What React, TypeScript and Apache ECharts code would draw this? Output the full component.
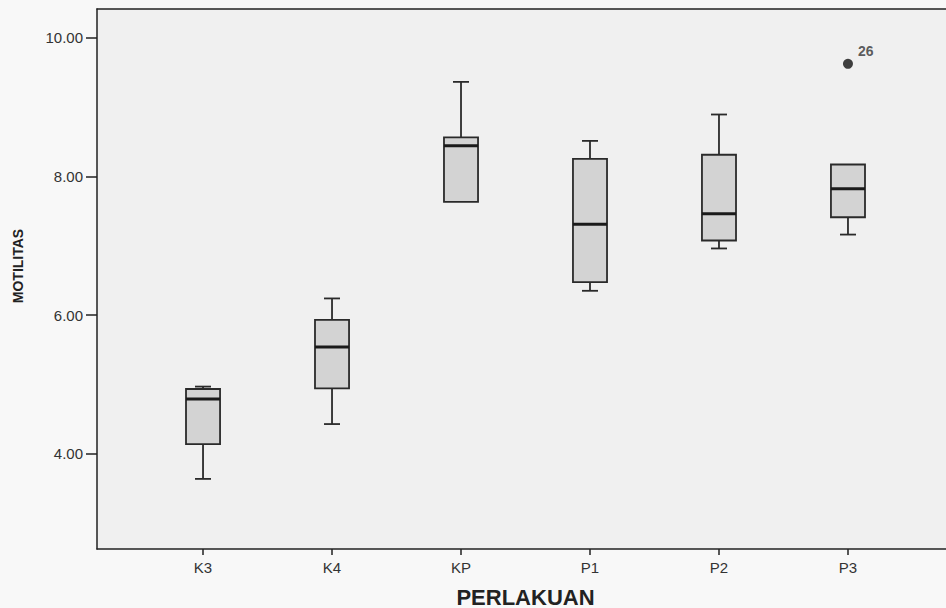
import React, { useEffect, useRef } from "react";
import * as echarts from "echarts";

const categories = ["K3", "K4", "KP", "P1", "P2", "P3"];
const mins = [3.64, 4.43, 7.63, 6.35, 6.96, 7.16];
const q1s = [4.14, 4.945, 7.63, 6.475, 7.075, 7.41];
const medians = [4.79, 5.54, 8.44, 7.31, 7.46, 7.82];
const q3s = [4.935, 5.93, 8.56, 8.25, 8.31, 8.17];
const maxs = [4.97, 6.24, 9.36, 8.51, 8.89, 8.17];
const outlierCats = ["P3"];
const outlierValues = [9.62];
const outlierLabels = ["26"];
const yTicks = [4, 6, 8, 10];

const FONT = "'Liberation Sans', Arial, sans-serif";
const X_MIN = 0.178;
const X_MAX = 6.822;

export default function App() {
  const ref = useRef<HTMLDivElement>(null);
  useEffect(() => {
    if (!ref.current) return;
    const chart = echarts.init(ref.current, null, { renderer: "svg" });
    const boxData = categories.map((c, i) => [i + 1, mins[i], q1s[i], medians[i], q3s[i], maxs[i]]);
    const outData = outlierCats.map((c, i) => ({
      value: [categories.indexOf(c) + 1, outlierValues[i]],
      label: outlierLabels[i],
    }));
    const axisLineStyle = { color: "#222", width: 1.5 };
    chart.setOption({
      animation: false,
      backgroundColor: "#f8f8f8",
      textStyle: { fontFamily: FONT },
      grid: {
        left: 97,
        right: -8,
        top: 9,
        bottom: 59,
        outerBoundsMode: "none",
        containLabel: false,
        show: true,
        backgroundColor: "#f0f0f0",
        borderWidth: 0,
        borderColor: "transparent",
      },
      xAxis: [
        {
          type: "value",
          position: "bottom",
          min: X_MIN,
          max: X_MAX,
          splitLine: { show: false },
          axisLine: { show: true, onZero: false, lineStyle: axisLineStyle },
          axisTick: { show: true, length: 6, customValues: categories.map((_, i) => i + 1), lineStyle: axisLineStyle },
          axisLabel: {
            customValues: categories.map((_, i) => i + 1),
            formatter: (v: number) => categories[Math.round(v) - 1] ?? "",
            color: "#333",
            fontSize: 15,
            fontFamily: FONT,
            margin: 11,
          },
          name: "PERLAKUAN",
          nameLocation: "middle",
          nameGap: 37,
          nameTextStyle: { fontSize: 22, fontWeight: "bold", color: "#222", fontFamily: FONT },
        },
        {
          type: "value",
          position: "top",
          min: X_MIN,
          max: X_MAX,
          splitLine: { show: false },
          axisLine: { show: true, onZero: false, lineStyle: axisLineStyle },
          axisTick: { show: false },
          axisLabel: { show: false },
        },
      ],
      yAxis: {
        type: "value",
        min: 2.63,
        max: 10.41,
        splitLine: { show: false },
        axisLine: { show: true, onZero: false, lineStyle: axisLineStyle },
        axisTick: { show: true, length: 11, customValues: yTicks, lineStyle: axisLineStyle },
        axisLabel: {
          customValues: yTicks,
          formatter: (v: number) => v.toFixed(2),
          color: "#333",
          fontSize: 15,
          fontFamily: FONT,
          margin: 14,
        },
        name: "MOTILITAS",
        nameLocation: "middle",
        nameGap: 72,
        nameRotate: 90,
        nameTextStyle: { fontSize: 14, fontWeight: "bold", color: "#222", fontFamily: FONT, padding: [0, 0, 0, 26] },
      },
      series: [
        {
          type: "custom",
          xAxisIndex: 0,
          data: boxData,
          encode: { x: 0, y: [1, 2, 3, 4, 5] },
          renderItem: (params: any, api: any) => {
            const x = api.value(0);
            const lo = api.coord([x, api.value(1)]);
            const q1 = api.coord([x, api.value(2)]);
            const med = api.coord([x, api.value(3)]);
            const q3 = api.coord([x, api.value(4)]);
            const hi = api.coord([x, api.value(5)]);
            const half = api.size([0.132, 0])[0];
            const cap = half * 0.47;
            const cx = med[0];
            const stroke = { stroke: "#2a2a2a", lineWidth: 1.8 };
            const children: any[] = [];
            if (Math.abs(hi[1] - q3[1]) > 0.5) {
              children.push({ type: "line", shape: { x1: cx, y1: hi[1], x2: cx, y2: q3[1] }, style: stroke });
              children.push({ type: "line", shape: { x1: cx - cap, y1: hi[1], x2: cx + cap, y2: hi[1] }, style: stroke });
            }
            if (Math.abs(lo[1] - q1[1]) > 0.5) {
              children.push({ type: "line", shape: { x1: cx, y1: q1[1], x2: cx, y2: lo[1] }, style: stroke });
              children.push({ type: "line", shape: { x1: cx - cap, y1: lo[1], x2: cx + cap, y2: lo[1] }, style: stroke });
            }
            children.push({
              type: "rect",
              shape: { x: cx - half, y: q3[1], width: half * 2, height: q1[1] - q3[1] },
              style: { fill: "#d3d3d3", stroke: "#2a2a2a", lineWidth: 1.8 },
            });
            children.push({
              type: "line",
              shape: { x1: cx - half, y1: med[1], x2: cx + half, y2: med[1] },
              style: { stroke: "#1a1a1a", lineWidth: 3 },
            });
            return { type: "group", children };
          },
          z: 3,
        },
        {
          type: "scatter",
          xAxisIndex: 0,
          data: outData.map((d) => d.value),
          symbol: "circle",
          symbolSize: 10,
          itemStyle: { color: "#111" },
          label: {
            show: true,
            position: "right",
            offset: [0, -13],
            formatter: (p: any) => outData[p.dataIndex].label,
            fontSize: 14,
            fontWeight: "bold",
            color: "#333",
            fontFamily: FONT,
          },
          z: 4,
        },
      ],
    });
    return () => chart.dispose();
  }, []);
  return (
    <div
      ref={ref}
      style={{ position: "fixed", left: 0, top: 0, width: 946, height: 608 }}
    />
  );
}
